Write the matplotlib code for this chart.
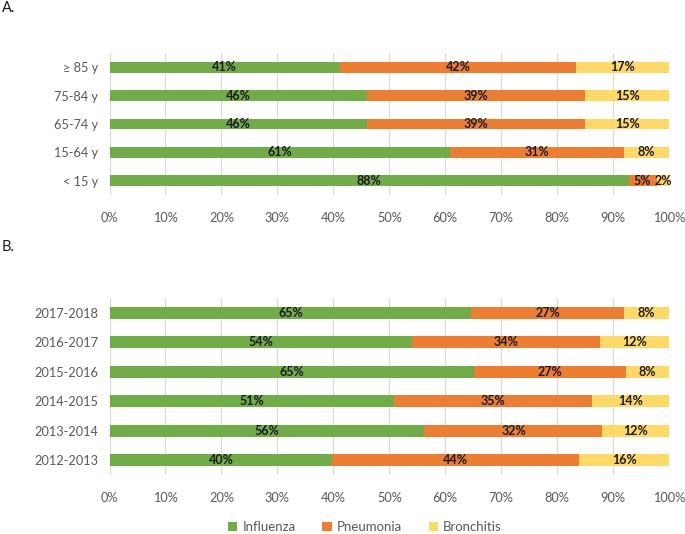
import matplotlib
matplotlib.use("Agg")
import matplotlib.pyplot as plt
import numpy as np

# Panel A data (bottom to top)
age_groups = ["< 15 y", "15-64 y", "65-74 y", "75-84 y", "\u2265 85 y"]
age_influenza = [92.8, 60.8, 46.0, 46.0, 41.2]
age_pneumonia = [5.0, 31.2, 39.0, 39.0, 42.2]
age_bronchitis = [2.2, 8.0, 15.0, 15.0, 16.6]
age_lbl_influenza = ["88%", "61%", "46%", "46%", "41%"]
age_lbl_pneumonia = ["5%", "31%", "39%", "39%", "42%"]
age_lbl_bronchitis = ["2%", "8%", "15%", "15%", "17%"]

# Panel B data (bottom to top)
seasons = ["2012-2013", "2013-2014", "2014-2015", "2015-2016", "2016-2017", "2017-2018"]
s_influenza = [39.8, 56.3, 50.8, 65.2, 54.0, 64.7]
s_pneumonia = [44.2, 31.8, 35.4, 27.1, 33.6, 27.3]
s_bronchitis = [16.0, 11.9, 13.8, 7.7, 12.4, 8.0]
s_lbl_influenza = ["40%", "56%", "51%", "65%", "54%", "65%"]
s_lbl_pneumonia = ["44%", "32%", "35%", "27%", "34%", "27%"]
s_lbl_bronchitis = ["16%", "12%", "14%", "8%", "12%", "8%"]

series_names = ["Influenza", "Pneumonia", "Bronchitis"]
colors = ["#70AD47", "#ED7D31", "#FFD966"]
xticks = list(range(0, 101, 10))

plt.rcParams['font.family'] = ['Lato', 'DejaVu Sans']

W, H = 685, 534
fig = plt.figure(figsize=(W / 100, H / 100), dpi=100)

def make_ax(top_px, bot_px):
    l = 109.5 / W
    r = 669 / W
    return fig.add_axes([l, 1 - bot_px / H, r - l, (bot_px - top_px) / H])

def draw(ax, cats, vals, lbls, height):
    y = np.arange(len(cats))
    left = np.zeros(len(cats))
    handles = []
    for v, lb, c, name in zip(vals, lbls, colors, series_names):
        v = np.array(v)
        h = ax.barh(y, v, left=left, height=height, color=c, label=name, zorder=3)
        handles.append(h)
        for yi, (li, vi, t) in enumerate(zip(left, v, lb)):
            ax.text(li + vi / 2, yi, t, ha='center', va='center', fontsize=9,
                    fontweight='bold', color='#1a1a1a', zorder=4)
        left = left + v
    ax.set_xlim(0, 100)
    ax.set_ylim(-0.5, len(cats) - 0.5)
    ax.set_yticks(y)
    ax.set_yticklabels(cats)
    ax.set_xticks(xticks)
    ax.set_xticklabels([f"{t}%" for t in xticks])
    ax.grid(axis='x', color='#d9d9d9', linewidth=0.9, zorder=0)
    for s in ax.spines.values():
        s.set_visible(False)
    ax.tick_params(axis='both', length=0, labelsize=9.2, colors='#595959')
    ax.tick_params(axis='x', pad=12)
    ax.tick_params(axis='y', pad=8)
    return handles

axA = make_ax(53, 195)
handles = draw(axA, age_groups, [age_influenza, age_pneumonia, age_bronchitis],
               [age_lbl_influenza, age_lbl_pneumonia, age_lbl_bronchitis], 0.38)

axB = make_ax(298, 475)
draw(axB, seasons, [s_influenza, s_pneumonia, s_bronchitis],
     [s_lbl_influenza, s_lbl_pneumonia, s_lbl_bronchitis], 0.4)

fig.text(2 / W, 1 - 8 / H, "A.", fontsize=10.5, ha='left', va='center', color='#1a1a1a')
fig.text(2 / W, 1 - 247 / H, "B.", fontsize=10.5, ha='left', va='center', color='#1a1a1a')

leg = fig.legend(handles, series_names, loc='center', bbox_to_anchor=(365 / W, 1 - 527 / H),
                 ncol=3, frameon=False, fontsize=9.5, handlelength=0.7, handleheight=0.7,
                 columnspacing=2.0, handletextpad=0.4)
for t in leg.get_texts():
    t.set_color('#595959')

fig.savefig("out.png", dpi=100)
